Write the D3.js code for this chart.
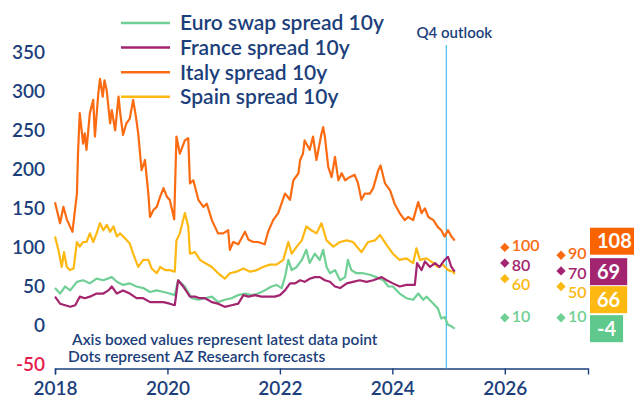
<!DOCTYPE html>
<html>
<head>
<meta charset="utf-8">
<script src="https://cdn.jsdelivr.net/npm/d3@7"></script>
<style>
  body { margin: 0; background: #fff; }
  svg { display: block; font-family: Lato, "Open Sans", sans-serif; }
</style>
</head>
<body>
<svg id="chart" width="634" height="401"></svg>
<script>
// [year, bp]
const euroSwap = [
    [2018.00, 48], [2018.09, 41], [2018.18, 50], [2018.27, 45], [2018.39, 56], [2018.50, 58],
    [2018.62, 54], [2018.74, 60], [2018.86, 58], [2019.01, 62], [2019.10, 56], [2019.21, 52],
    [2019.33, 54], [2019.45, 50], [2019.57, 48], [2019.69, 43], [2019.81, 45], [2019.93, 43],
    [2020.04, 41], [2020.13, 39], [2020.19, 58], [2020.31, 50], [2020.43, 35], [2020.55, 33],
    [2020.67, 35], [2020.79, 37], [2020.90, 30], [2021.02, 33], [2021.14, 35], [2021.26, 39],
    [2021.38, 41], [2021.50, 39], [2021.61, 41], [2021.73, 45], [2021.85, 50], [2021.94, 52],
    [2022.03, 48], [2022.09, 62], [2022.15, 84], [2022.21, 71], [2022.30, 75], [2022.39, 84],
    [2022.47, 97], [2022.53, 80], [2022.62, 92], [2022.71, 84], [2022.77, 97], [2022.83, 75],
    [2022.89, 67], [2022.98, 71], [2023.07, 58], [2023.16, 62], [2023.21, 84], [2023.27, 71],
    [2023.36, 67], [2023.48, 67], [2023.60, 65], [2023.72, 62], [2023.84, 58], [2023.93, 50],
    [2024.01, 50], [2024.13, 41], [2024.25, 35], [2024.37, 33], [2024.46, 41], [2024.55, 33],
    [2024.61, 37], [2024.73, 28], [2024.81, 22], [2024.87, 9], [2024.93, 11], [2024.99, 1],
    [2025.05, -1], [2025.11, -4]
];

const france = [
    [2018.00, 37], [2018.09, 28], [2018.18, 26], [2018.27, 24], [2018.36, 26], [2018.44, 37],
    [2018.53, 35], [2018.62, 37], [2018.74, 41], [2018.86, 41], [2018.95, 45], [2019.01, 50],
    [2019.10, 41], [2019.21, 45], [2019.33, 41], [2019.45, 35], [2019.57, 35], [2019.69, 30],
    [2019.81, 30], [2019.93, 30], [2020.04, 28], [2020.13, 26], [2020.19, 58], [2020.28, 50],
    [2020.40, 37], [2020.49, 37], [2020.58, 35], [2020.67, 35], [2020.79, 30], [2020.90, 28],
    [2021.02, 24], [2021.14, 26], [2021.26, 28], [2021.35, 39], [2021.44, 37], [2021.56, 39],
    [2021.67, 37], [2021.79, 37], [2021.91, 37], [2022.00, 39], [2022.09, 45], [2022.18, 54],
    [2022.27, 54], [2022.36, 58], [2022.44, 56], [2022.53, 60], [2022.62, 62], [2022.71, 62],
    [2022.80, 58], [2022.89, 56], [2022.98, 50], [2023.07, 48], [2023.19, 54], [2023.30, 56],
    [2023.42, 58], [2023.54, 56], [2023.66, 58], [2023.81, 62], [2023.90, 58], [2024.01, 54],
    [2024.13, 50], [2024.25, 52], [2024.40, 52], [2024.44, 80], [2024.52, 71], [2024.58, 82],
    [2024.67, 75], [2024.76, 80], [2024.84, 75], [2024.93, 84], [2024.99, 88], [2025.05, 75],
    [2025.11, 69]
];

const italy = [
    [2018.00, 158], [2018.09, 131], [2018.15, 152], [2018.21, 136], [2018.31, 120], [2018.39, 169],
    [2018.41, 222], [2018.44, 272], [2018.50, 233], [2018.53, 246], [2018.56, 225], [2018.62, 272],
    [2018.68, 289], [2018.71, 242], [2018.77, 297], [2018.80, 316], [2018.85, 293], [2018.88, 314],
    [2018.92, 301], [2018.98, 259], [2019.01, 276], [2019.07, 250], [2019.13, 293], [2019.16, 272],
    [2019.21, 244], [2019.27, 259], [2019.33, 265], [2019.39, 289], [2019.44, 267], [2019.48, 246],
    [2019.54, 199], [2019.60, 212], [2019.66, 169], [2019.69, 139], [2019.75, 148], [2019.81, 152],
    [2019.87, 165], [2019.93, 176], [2019.99, 165], [2020.04, 161], [2020.12, 136], [2020.16, 242],
    [2020.22, 220], [2020.31, 237], [2020.37, 240], [2020.40, 182], [2020.46, 186], [2020.55, 161],
    [2020.64, 152], [2020.70, 156], [2020.79, 135], [2020.90, 118], [2020.99, 118], [2021.08, 122],
    [2021.11, 97], [2021.17, 107], [2021.26, 104], [2021.38, 120], [2021.44, 110], [2021.53, 107],
    [2021.61, 107], [2021.73, 104], [2021.79, 120], [2021.88, 135], [2021.97, 144], [2022.09, 169],
    [2022.18, 161], [2022.24, 186], [2022.33, 195], [2022.36, 212], [2022.41, 220], [2022.44, 237],
    [2022.53, 225], [2022.59, 242], [2022.65, 212], [2022.74, 246], [2022.77, 254], [2022.80, 242],
    [2022.86, 203], [2022.92, 190], [2022.98, 216], [2023.04, 186], [2023.10, 195], [2023.16, 186],
    [2023.24, 190], [2023.33, 193], [2023.39, 182], [2023.45, 161], [2023.51, 169], [2023.60, 169],
    [2023.66, 176], [2023.75, 199], [2023.79, 205], [2023.87, 182], [2023.96, 173], [2024.04, 156],
    [2024.13, 144], [2024.22, 135], [2024.28, 139], [2024.37, 135], [2024.46, 158], [2024.52, 144],
    [2024.58, 150], [2024.64, 139], [2024.73, 135], [2024.81, 126], [2024.87, 122], [2024.93, 114],
    [2024.99, 122], [2025.05, 114], [2025.11, 109]
];

const spain = [
    [2018.00, 114], [2018.06, 97], [2018.12, 75], [2018.16, 94], [2018.21, 75], [2018.27, 71],
    [2018.33, 73], [2018.39, 107], [2018.44, 101], [2018.50, 107], [2018.56, 107], [2018.62, 118],
    [2018.68, 107], [2018.74, 118], [2018.80, 131], [2018.86, 122], [2018.92, 129], [2018.98, 120],
    [2019.04, 127], [2019.10, 114], [2019.16, 118], [2019.24, 112], [2019.33, 105], [2019.39, 92],
    [2019.48, 75], [2019.57, 84], [2019.66, 84], [2019.72, 73], [2019.81, 67], [2019.87, 75],
    [2019.96, 71], [2020.04, 71], [2020.13, 69], [2020.16, 109], [2020.22, 118], [2020.31, 144],
    [2020.37, 127], [2020.40, 92], [2020.49, 94], [2020.58, 84], [2020.67, 80], [2020.79, 75],
    [2020.90, 67], [2021.02, 60], [2021.11, 67], [2021.23, 69], [2021.35, 73], [2021.47, 69],
    [2021.59, 71], [2021.70, 75], [2021.82, 78], [2021.94, 78], [2022.06, 84], [2022.15, 107],
    [2022.21, 92], [2022.30, 101], [2022.39, 109], [2022.47, 127], [2022.56, 122], [2022.65, 118],
    [2022.74, 131], [2022.83, 109], [2022.95, 101], [2023.07, 107], [2023.19, 109], [2023.30, 107],
    [2023.45, 94], [2023.57, 107], [2023.69, 109], [2023.78, 116], [2023.90, 103], [2024.01, 92],
    [2024.13, 84], [2024.25, 86], [2024.37, 80], [2024.43, 99], [2024.49, 84], [2024.61, 86],
    [2024.73, 80], [2024.81, 75], [2024.90, 78], [2024.99, 71], [2025.08, 69], [2025.11, 66]
];

const seriesNames = ['Euro swap spread 10y', 'France spread 10y', 'Italy spread 10y', 'Spain spread 10y'];
const seriesColors = ['#6fcf95', '#a3246f', '#fa6b12', '#fdb812'];
const boxColors = ['#5ec98a', '#a3246f', '#fa6400', '#fdb812'];
const latestValues = [-4, 69, 108, 66];
const forecastYears = [2026, 2027];
const forecasts = [[10, 10], [80, 70], [100, 90], [60, 50]];
const yTicks = [350, 300, 250, 200, 150, 100, 50, 0, -50];
const xTicks = [2018, 2020, 2022, 2024, 2026];
const outlookYear = 2024.96;

const navy = '#1c3f7c';
const svg = d3.select('#chart');

const x = d3.scaleLinear().domain([2018, 2027.48]).range([55, 588]);
const y = d3.scaleLinear().domain([-50, 350]).range([364.6, 52.2]);

// y labels, no axis line
svg.append('g')
    .selectAll('text')
    .data(yTicks)
    .join('text')
    .attr('x', 45)
    .attr('y', d => y(d))
    .attr('dy', '0.35em')
    .attr('text-anchor', 'end')
    .attr('font-size', 19)
    .attr('font-weight', 600)
    .attr('fill', d => d < 0 ? '#e3194b' : navy)
    .text(d => d);

const xAxis = svg.append('g')
    .attr('transform', `translate(0, ${y(-55)})`)
    .call(d3.axisBottom(x).tickValues(xTicks).tickFormat(d3.format('d')).tickSizeOuter(0).tickSize(6).tickPadding(7));
xAxis.select('.domain').attr('stroke', navy).attr('stroke-width', 1.4);
xAxis.selectAll('.tick line').attr('stroke', navy).attr('stroke-width', 1.4);
xAxis.selectAll('.tick text')
    .attr('fill', navy)
    .attr('font-size', 19)
    .attr('font-weight', 600)
    .attr('font-family', 'Lato, sans-serif');

// outlook marker
svg.append('line')
    .attr('x1', x(outlookYear))
    .attr('x2', x(outlookYear))
    .attr('y1', 45)
    .attr('y2', y(-55))
    .attr('stroke', '#45bdea')
    .attr('stroke-width', 1.2);

svg.append('text')
    .attr('x', x(outlookYear) + 8)
    .attr('y', 33)
    .attr('dy', '0.35em')
    .attr('text-anchor', 'middle')
    .attr('font-size', 15)
    .attr('font-weight', 600)
    .attr('fill', navy)
    .text('Q4 outlook');

const line = d3.line()
    .x(d => x(d[0]))
    .y(d => y(d[1]));

const allSeries = [euroSwap, france, italy, spain];
const drawOrder = [0, 2, 3, 1];

svg.append('g')
    .selectAll('path')
    .data(drawOrder)
    .join('path')
    .attr('d', i => line(allSeries[i]))
    .attr('fill', 'none')
    .attr('stroke', i => seriesColors[i])
    .attr('stroke-width', 2.2)
    .attr('stroke-linejoin', 'round');

// legend
const legend = svg.append('g')
    .selectAll('g')
    .data(seriesNames)
    .join('g')
    .attr('transform', (d, i) => `translate(121, ${23 + i * 24.6})`);

legend.append('line')
    .attr('x2', 49)
    .attr('stroke', (d, i) => seriesColors[i])
    .attr('stroke-width', 2.5);

legend.append('text')
    .attr('x', 59)
    .attr('dy', '0.35em')
    .attr('font-size', 21)
    .attr('font-weight', 600)
    .attr('fill', navy)
    .text(d => d);

// forecast diamonds
const diamond = d3.symbol().type(d3.symbolDiamond2).size(55);
forecastYears.forEach((year, col) => {
    const items = forecasts.map((f, i) => ({ i, value: f[col], cy: y(f[col]) }))
        .sort((a, b) => b.value - a.value);
    let last = -Infinity;
    items.forEach(d => {
        d.ly = Math.max(d.cy - 2, last + 19.5);
        last = d.ly;
    });

    const g = svg.append('g');
    g.selectAll('path')
        .data(items)
        .join('path')
        .attr('d', diamond)
        .attr('transform', d => `translate(${x(year)}, ${d.cy})`)
        .attr('fill', d => seriesColors[d.i]);

    g.selectAll('text')
        .data(items)
        .join('text')
        .attr('x', x(year) + 7)
        .attr('y', d => d.ly)
        .attr('dy', '0.36em')
        .attr('font-size', 16)
        .attr('font-weight', 600)
        .attr('fill', d => seriesColors[d.i])
        .text(d => d.value);
});

// latest value boxes, stacked so they do not overlap
const boxH = 27;
const boxes = latestValues.map((v, i) => ({ i, value: v }))
    .sort((a, b) => b.value - a.value);
let bottom = -Infinity;
boxes.forEach(d => {
    d.top = Math.max(y(d.value) - boxH / 2, bottom + 1);
    bottom = d.top + boxH;
});

const boxG = svg.append('g')
    .selectAll('g')
    .data(boxes)
    .join('g')
    .attr('transform', d => `translate(${x.range()[1] + 2}, ${d.top})`);

boxG.append('text')
    .attr('x', 7)
    .attr('y', boxH / 2)
    .attr('dy', '0.36em')
    .attr('font-size', 20)
    .attr('font-weight', 700)
    .attr('fill', '#fff')
    .text(d => d.value);

boxG.insert('rect', 'text')
    .attr('height', boxH)
    .attr('width', function () {
        return this.parentNode.querySelector('text').getComputedTextLength() + 14;
    })
    .attr('fill', d => boxColors[d.i]);

// notes
svg.append('g')
    .selectAll('text')
    .data(['Axis boxed values represent latest data point', 'Dots represent AZ Research forecasts'])
    .join('text')
    .attr('x', (d, i) => i ? 68 : 72)
    .attr('y', (d, i) => 340 + i * 17)
    .attr('dy', '0.35em')
    .attr('font-size', 15.5)
    .attr('font-weight', 600)
    .attr('fill', navy)
    .text(d => d);
</script>
</body>
</html>
